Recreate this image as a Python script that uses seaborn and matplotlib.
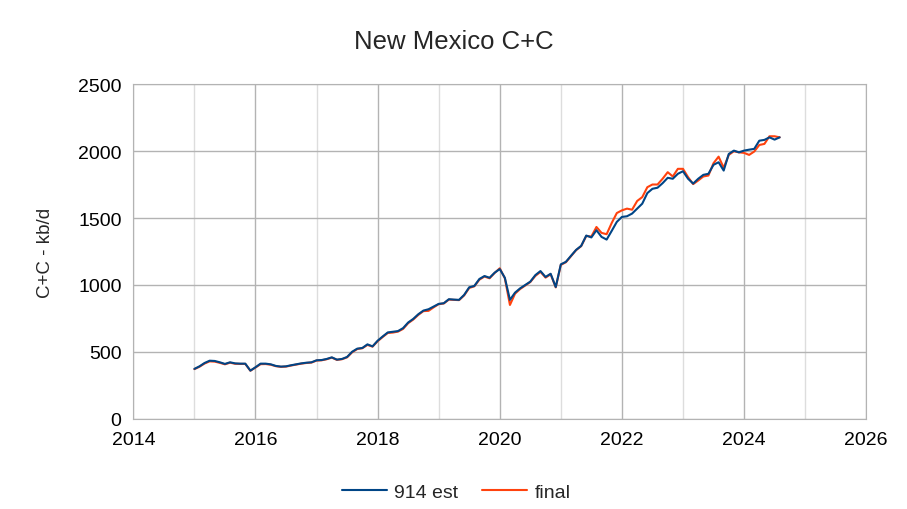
import seaborn as sns
import matplotlib.pyplot as plt
import pandas as pd
from matplotlib.ticker import MultipleLocator

# monthly points, Jan 2015 .. Aug 2024
months = pd.date_range('2015-01-01', periods=116, freq='MS')

est_914 = [374, 393, 418, 435, 433, 423, 411, 423, 415, 413, 413, 361,
           386, 413, 413, 408, 396, 391, 393, 401, 408, 415, 420, 423,
           438, 440, 448, 460, 443, 448, 463, 502, 525, 530, 557, 542,
           584, 616, 646, 651, 656, 678, 720, 747, 782, 809, 819, 839,
           859, 864, 894, 891, 889, 926, 983, 993, 1045, 1067, 1054, 1092,
           1119, 1054, 889, 943, 975, 1000, 1025, 1074, 1104, 1060, 1084, 985,
           1154, 1173, 1218, 1262, 1292, 1369, 1355, 1409, 1359, 1339, 1404, 1471,
           1508, 1513, 1533, 1570, 1607, 1686, 1718, 1726, 1760, 1800, 1793, 1830,
           1849, 1793, 1757, 1793, 1822, 1830, 1897, 1916, 1854, 1978, 2003, 1990,
           2003, 2010, 2016, 2077, 2083, 2102, 2085, 2102]

final = [372, 390, 414, 430, 428, 419, 408, 420, 412, 411, 411, 360,
         384, 409, 410, 405, 394, 389, 391, 399, 406, 413, 418, 421,
         436, 438, 446, 458, 441, 446, 460, 498, 522, 528, 553, 540,
         580, 612, 642, 645, 652, 672, 715, 742, 777, 805, 807, 833,
         857, 862, 891, 889, 887, 922, 978, 990, 1040, 1063, 1050, 1090,
         1125, 1050, 851, 935, 970, 996, 1022, 1068, 1098, 1055, 1080, 982,
         1150, 1170, 1215, 1260, 1290, 1366, 1362, 1433, 1389, 1379, 1463, 1537,
         1557, 1570, 1562, 1627, 1656, 1730, 1750, 1750, 1793, 1842, 1810, 1867,
         1867, 1805, 1753, 1780, 1810, 1817, 1909, 1958, 1875, 1971, 1998, 1990,
         1986, 1971, 1996, 2045, 2053, 2110, 2110, 2102]

labels = ['914 est', 'final']
colors = ['#004586', '#ff420e']

year = months.year + (months.month - 1) / 12
df = pd.DataFrame({'year': year, '914 est': est_914, 'final': final})

sns.set_style('white')
plt.rcParams['font.family'] = ['Liberation Sans', 'DejaVu Sans']

fig = plt.figure(figsize=(9.07, 5.10), dpi=100)
ax = fig.add_axes([0.147, 0.1765, 0.808, 0.6568])

# final underneath, 914 est on top
sns.lineplot(data=df, x='year', y='final', color=colors[1], lw=1.5, ax=ax, zorder=3)
sns.lineplot(data=df, x='year', y='914 est', color=colors[0], lw=1.5, ax=ax, zorder=4)

ax.set_xlim(2014, 2026)
ax.set_ylim(0, 2500)
ax.xaxis.set_major_locator(MultipleLocator(2))
ax.xaxis.set_minor_locator(MultipleLocator(1))
ax.yaxis.set_major_locator(MultipleLocator(500))
ax.grid(which='major', color='#b3b3b3', lw=1)
ax.grid(which='minor', axis='x', color='#dddddd', lw=1)
for s in ax.spines.values():
    s.set_color('#b3b3b3')
ax.tick_params(which='both', direction='out', colors='#b3b3b3', labelcolor='black',
               labelsize=14, length=5, width=1)
ax.tick_params(which='minor', length=0)

ax.set_xlabel('')
ax.set_ylabel('C+C - kb/d', fontsize=13.5, labelpad=17)
fig.text(0.5, 0.918, 'New Mexico C+C', ha='center', va='center', fontsize=18.5)

handles = [plt.Line2D([], [], color=c, lw=1.5) for c in colors]
fig.legend(handles, labels, loc='center', bbox_to_anchor=(0.503, 0.033), ncol=2,
           frameon=False, fontsize=14, handlelength=2.3, columnspacing=1.2, handletextpad=0.4)

fig.savefig('out.png', dpi=100)
